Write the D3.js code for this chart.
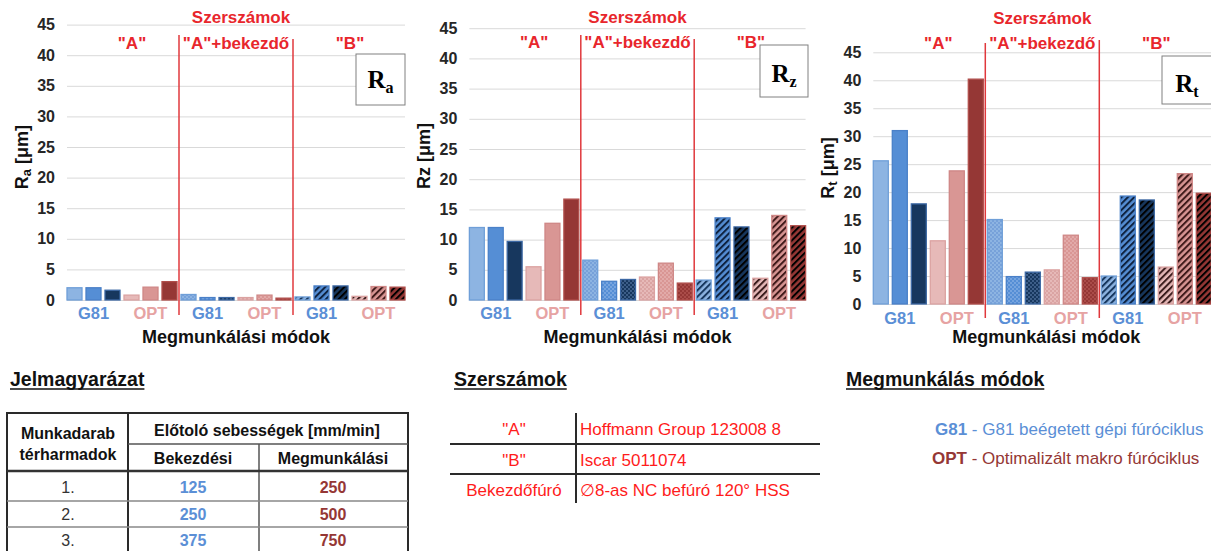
<!DOCTYPE html>
<html><head><meta charset="utf-8">
<script src="https://cdn.jsdelivr.net/npm/d3@7"></script>
<style>body{margin:0;background:#fff;} svg{display:block;font-family:"Liberation Sans",Arial,sans-serif;}</style>
</head><body><svg id="c" width="1211" height="551"></svg>
<script>
// ---------- DATA ----------
const sections = ['"A"', '"A"+bekezdő', '"B"'];
const modes = ['G81', 'OPT'];
const thirds = ['1.', '2.', '3.'];
const raValues = [2.0, 2.0, 1.6, 0.8, 2.1, 3.0, 0.9, 0.4, 0.4, 0.4, 0.8, 0.3, 0.5, 2.3, 2.3, 0.6, 2.2, 2.1];
const rzValues = [12.0, 12.0, 9.7, 5.5, 12.7, 16.7, 6.6, 3.1, 3.4, 3.8, 6.1, 2.8, 3.3, 13.6, 12.1, 3.6, 14.0, 12.3];
const rtValues = [25.6, 31.0, 17.9, 11.3, 23.8, 40.2, 15.1, 4.9, 5.7, 6.1, 12.3, 4.7, 5.0, 19.3, 18.6, 6.6, 23.3, 19.8];
const yTicks = [0, 5, 10, 15, 20, 25, 30, 35, 40, 45];
const feedStart = [125, 250, 375];
const feedMachining = [250, 500, 750];
const toolKeys = ['"A"', '"B"', 'Bekezdőfúró'];
const toolDescs = ['Hoffmann Group 123008 8', 'Iscar 5011074', '∅8-as NC befúró 120° HSS'];
const modeDescs = ['G81 beégetett gépi fúróciklus', 'Optimalizált makro fúróciklus'];

// ---------- STYLE ----------
const fills = [['#8db4e2', '#558ed5', '#17375e'], ['#e6b9b8', '#d99694', '#953735']];
const strokes = [['#6f9fd8', '#4a80c8', '#3c68a4'], ['#dba2a1', '#cf8786', '#b04e4b']];
const dotCols = [['#5586cc', '#a8c6ee', '#7598c8'], ['#c98684', '#f1c9c8', '#c96a67']];
const stripeCols = [['#17375e', '#0e2240', '#000'], ['#3a1c1c', '#3f1a1a', '#000']];
const RED = '#e8262c';
const FONT = '"Liberation Sans", Arial, sans-serif';
const SERIF = '"Liberation Serif", "Times New Roman", serif';

const svg = d3.select('#c');
const defs = svg.append('defs');
for (let mi = 0; mi < 2; mi++) for (let ti = 0; ti < 3; ti++) {
  const pd = defs.append('pattern').attr('id', `dot-${mi}-${ti}`).attr('patternUnits', 'userSpaceOnUse')
    .attr('width', 4).attr('height', 4);
  pd.append('rect').attr('width', 4).attr('height', 4).attr('fill', fills[mi][ti]);
  pd.append('circle').attr('cx', 1).attr('cy', 1).attr('r', 0.75).attr('fill', dotCols[mi][ti]);
  pd.append('circle').attr('cx', 3).attr('cy', 3).attr('r', 0.75).attr('fill', dotCols[mi][ti]);
  const ps = defs.append('pattern').attr('id', `str-${mi}-${ti}`).attr('patternUnits', 'userSpaceOnUse')
    .attr('width', 4.5).attr('height', 10).attr('patternTransform', 'rotate(45)');
  ps.append('rect').attr('width', 4.5).attr('height', 10).attr('fill', fills[mi][ti]);
  ps.append('rect').attr('width', 2).attr('height', 10).attr('fill', stripeCols[mi][ti]);
}

const keys = [];
sections.forEach((s, si) => modes.forEach((m, mi) => thirds.forEach((t, ti) => keys.push({ key: `${si}-${mi}-${ti}`, si, mi, ti }))));

const charts = [
  { values: raValues, sub: 'a', x0: 65, x1: 407, yb: 300, yt: 24.6, ytx: 22, yty: 157, labY: 313, titY: 337, secY: 43, topY: 17,
    box: [356, 54, 49, 51], boxBase: 88, lines: [[35, 315], [39, 315]] },
  { values: rzValues, sub: null, x0: 467.4, x1: 807.6, yb: 300, yt: 28.2, ytx: 424, yty: 156, labY: 313, titY: 337, secY: 42, topY: 17,
    box: [760, 45, 48, 52], boxBase: 82, lines: [[35, 315], [39, 315]] },
  { values: rtValues, sub: 't', x0: 871.3, x1: 1213.3, yb: 304, yt: 52.3, ytx: 828, yty: 168, labY: 318, titY: 337, secY: 43, topY: 18,
    box: [1162, 56, 50, 48], boxBase: 92, lines: [[43, 318], [40, 318]] }
];
const boxSubs = ['a', 'z', 't'];

charts.forEach((cfg, ci) => {
  const g = svg.append('g');
  const x = d3.scaleBand().domain(keys.map(k => k.key)).range([cfg.x0, cfg.x1]).paddingInner(0.21).paddingOuter(0.105);
  const y = d3.scaleLinear().domain([0, 45]).range([cfg.yb, cfg.yt]);
  const bw = x.bandwidth();

  const ax = g.append('g').attr('transform', `translate(${cfg.x0 + 2},0)`)
    .call(d3.axisLeft(y).tickValues(yTicks).tickSize(-(cfg.x1 - cfg.x0 - 4)).tickPadding(12));
  ax.select('.domain').remove();
  ax.selectAll('line').attr('stroke', '#d9d9d9').attr('stroke-width', 1);
  ax.attr('font-family', FONT).attr('font-size', 16);
  ax.selectAll('text').attr('font-weight', 'bold').attr('fill', '#262626');

  const data = keys.map((k, i) => ({ ...k, v: cfg.values[i] }));
  g.selectAll('rect.bar').data(data).join('rect').attr('class', 'bar')
    .attr('x', d => x(d.key)).attr('width', bw)
    .attr('y', d => y(d.v)).attr('height', d => y(0) - y(d.v))
    .attr('fill', d => d.si === 0 ? fills[d.mi][d.ti] : (d.si === 1 ? `url(#dot-${d.mi}-${d.ti})` : `url(#str-${d.mi}-${d.ti})`))
    .attr('stroke', d => strokes[d.mi][d.ti]).attr('stroke-width', 1.3);

  // mode labels
  const groups = [];
  sections.forEach((s, si) => modes.forEach((m, mi) => groups.push({ si, mi, m })));
  g.selectAll('text.mode').data(groups).join('text').attr('class', 'mode')
    .attr('x', d => (x(`${d.si}-${d.mi}-0`) + x(`${d.si}-${d.mi}-2`) + bw) / 2)
    .attr('y', cfg.labY).attr('dominant-baseline', 'central').attr('text-anchor', 'middle')
    .attr('font-family', FONT).attr('font-size', 16.5).attr('font-weight', 'bold')
    .attr('fill', d => d.mi === 0 ? '#5b8fd6' : '#e6a3a3').text(d => d.m);

  // section dividers
  [1, 2].forEach((si, li) => {
    const a = x(`${si - 1}-1-2`) + bw, b = x(`${si}-0-0`);
    const xx = (a + b) / 2;
    g.append('line').attr('x1', xx).attr('x2', xx).attr('y1', cfg.lines[li][0]).attr('y2', cfg.lines[li][1])
      .attr('stroke', '#e0383c').attr('stroke-width', 1.5);
  });

  // section labels
  g.selectAll('text.sec').data(sections).join('text').attr('class', 'sec')
    .attr('x', (d, si) => (x(`${si}-0-0`) + x(`${si}-1-2`) + bw) / 2 + (si === 0 ? 10 : 0))
    .attr('y', cfg.secY).attr('dominant-baseline', 'central').attr('text-anchor', 'middle')
    .attr('font-family', FONT).attr('font-size', 17).attr('font-weight', 'bold').attr('fill', RED).text(d => d);
  g.append('text').attr('x', (cfg.x0 + cfg.x1) / 2 + (ci === 0 ? 5 : 0)).attr('y', cfg.topY).attr('dominant-baseline', 'central')
    .attr('text-anchor', 'middle').attr('font-family', FONT).attr('font-size', 17).attr('font-weight', 'bold')
    .attr('fill', RED).text('Szerszámok');

  // x title
  g.append('text').attr('x', (cfg.x0 + cfg.x1) / 2 + (ci === 2 ? 4 : 0)).attr('y', cfg.titY).attr('dominant-baseline', 'central')
    .attr('text-anchor', 'middle').attr('font-family', FONT).attr('font-size', 18).attr('font-weight', 'bold')
    .attr('fill', '#111').text('Megmunkálási módok');

  // y title
  const yt = g.append('text').attr('transform', `translate(${cfg.ytx},${cfg.yty}) rotate(-90)`)
    .attr('text-anchor', 'middle').attr('dominant-baseline', 'central')
    .attr('font-family', FONT).attr('font-size', 18).attr('font-weight', 'bold').attr('fill', '#111');
  if (cfg.sub) {
    yt.append('tspan').text('R');
    yt.append('tspan').attr('font-size', 13).attr('dy', 4).text(cfg.sub);
    yt.append('tspan').attr('dy', -4).text(' [μm]');
  } else {
    yt.text('Rz [μm]');
  }

  // box
  const [bx, by, bww, bh] = cfg.box;
  g.append('rect').attr('x', bx).attr('y', by).attr('width', bww).attr('height', bh)
    .attr('fill', '#fff').attr('stroke', '#808080').attr('stroke-width', 1);
  const bt = g.append('text').attr('x', bx + bww / 2).attr('y', cfg.boxBase).attr('text-anchor', 'middle')
    .attr('font-family', SERIF).attr('font-weight', 'bold').attr('fill', '#000');
  bt.append('tspan').attr('font-size', 25).text('R');
  bt.append('tspan').attr('font-size', 16).attr('dy', 5).text(boxSubs[ci]);
});

// ---------- Bottom: titles ----------
function title(xp, yp, txt) {
  const t = svg.append('text').attr('x', xp).attr('y', yp).attr('font-family', FONT).attr('font-size', 19.5)
    .attr('font-weight', 'bold').attr('fill', '#111').text(txt);
  const w = t.node().getComputedTextLength();
  svg.append('line').attr('x1', xp).attr('x2', xp + w).attr('y1', yp + 3).attr('y2', yp + 3)
    .attr('stroke', '#111').attr('stroke-width', 1.6);
}
title(10, 386, 'Jelmagyarázat');
title(454, 386, 'Szerszámok');
title(846, 386, 'Megmunkálás módok');

// ---------- Table 1 ----------
const t1 = svg.append('g');
const lineT = (g, x1, y1, x2, y2, c, w) => g.append('line').attr('x1', x1).attr('y1', y1).attr('x2', x2).attr('y2', y2).attr('stroke', c).attr('stroke-width', w);
t1.append('rect').attr('x', 7).attr('y', 413).attr('width', 401).attr('height', 145).attr('fill', 'none').attr('stroke', '#2a2a2a').attr('stroke-width', 2);
lineT(t1, 128, 413, 128, 552, '#2a2a2a', 2);
lineT(t1, 259, 444, 259, 552, '#555', 1.5);
lineT(t1, 128, 444, 408, 444, '#555', 1.5);
lineT(t1, 7, 471, 408, 471, '#333', 2.5);
lineT(t1, 7, 501, 408, 501, '#888', 1.5);
lineT(t1, 7, 527, 408, 527, '#888', 1.5);
const txt = (g, xp, yp, s, opt) => g.append('text').attr('x', xp).attr('y', yp).attr('dominant-baseline', 'central')
  .attr('text-anchor', opt.anchor || 'middle').attr('font-family', FONT).attr('font-size', opt.size || 16)
  .attr('font-weight', opt.weight || 'normal').attr('fill', opt.fill || '#111').text(s);
txt(t1, 68, 433, 'Munkadarab', { weight: 'bold' });
txt(t1, 68, 454.5, 'térharmadok', { weight: 'bold' });
txt(t1, 267, 430, 'Előtoló sebességek [mm/min]', { weight: 'bold' });
txt(t1, 193, 458, 'Bekezdési', { weight: 'bold' });
txt(t1, 333, 458, 'Megmunkálási', { weight: 'bold' });
const rowY = [487, 514, 540];
thirds.forEach((t, i) => {
  txt(t1, 68, rowY[i], t, { fill: '#333' });
  txt(t1, 193, rowY[i], feedStart[i], { weight: 'bold', fill: '#5b8fd6' });
  txt(t1, 333, rowY[i], feedMachining[i], { weight: 'bold', fill: '#953735' });
});

// ---------- Table 2 ----------
const t2 = svg.append('g');
lineT(t2, 576, 413, 576, 503, '#2a2a2a', 2);
lineT(t2, 450, 444, 820, 444, '#2a2a2a', 2);
lineT(t2, 450, 474, 820, 474, '#2a2a2a', 2);
const tY = [429, 460, 490];
toolKeys.forEach((k, i) => {
  txt(t2, 514, tY[i], k, { size: 17, fill: '#ff1c1c' });
  txt(t2, 580, tY[i], toolDescs[i], { size: 17, fill: '#ff1c1c', anchor: 'start' });
});

// ---------- Modes legend ----------
const modeCols = ['#5b8fd6', '#953735'];
const mX = [935, 932], mY = [429, 458];
modes.forEach((m, i) => {
  const t = svg.append('text').attr('x', mX[i]).attr('y', mY[i]).attr('dominant-baseline', 'central')
    .attr('font-family', FONT).attr('font-size', 17).attr('fill', modeCols[i]);
  t.append('tspan').attr('font-weight', 'bold').text(m);
  t.append('tspan').text(' - ' + modeDescs[i]);
});
</script></body></html>
